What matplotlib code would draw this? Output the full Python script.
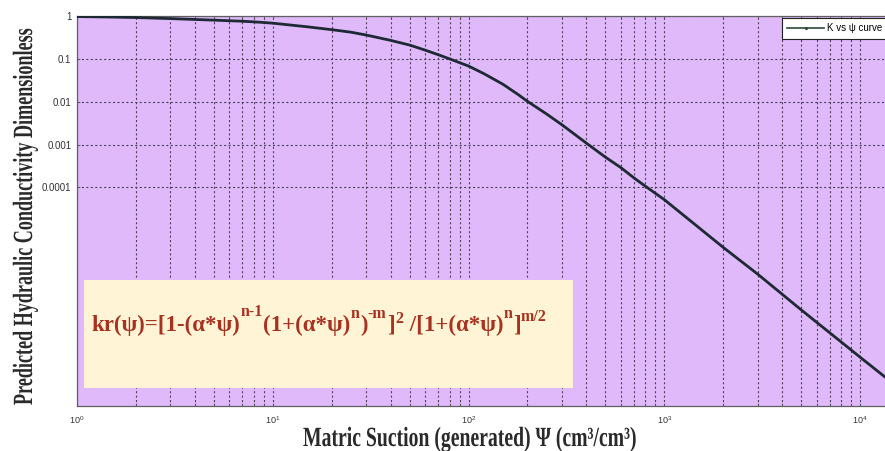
import matplotlib
matplotlib.use('Agg')
import matplotlib.pyplot as plt
from matplotlib.patches import Rectangle
from matplotlib.lines import Line2D
from matplotlib.patheffects import AbstractPathEffect
from matplotlib.transforms import Affine2D
from matplotlib.ticker import FixedLocator, NullLocator, LogLocator

plt.rcParams['font.family'] = ['Liberation Sans', 'DejaVu Sans']

# matric suction (cm) and relative conductivity
psi = [1, 1.5, 2, 3, 4, 5, 6, 7, 8, 9, 10, 15, 20, 25, 30, 40, 50, 60, 70, 80,
       100, 120, 150, 180, 200, 250, 300, 400, 500, 600, 700, 800, 1000,
       2000, 3000, 5000, 10000, 13400]
kr = [0.97, 0.945, 0.92, 0.87, 0.83, 0.80, 0.775, 0.755, 0.73, 0.705, 0.68,
      0.56, 0.48, 0.42, 0.36, 0.27, 0.21, 0.16, 0.125, 0.10,
      0.068, 0.045, 0.0255, 0.0145, 0.0102, 0.0052, 0.0029, 0.00108, 5.1e-4,
      2.9e-4, 1.67e-4, 1.07e-4, 5.2e-5,
      4.0e-6, 9.5e-7, 1.4e-7, 1.1e-8, 3.8e-9]

ytick_vals = [1e-4, 1e-3, 1e-2, 1e-1, 1]
ytick_labels = ['0.0001', '0.001', '0.01', '0.1', '1']

# formula pieces: (text, rise in points; 0 = on the baseline)
formula = [('kr(ψ)=[1-(α*ψ)', 0), ('n-1', 11), ('(1+(α*ψ)', 0), ('n', 9.5),
           (')', 0), ('-m', 9.5), (']', 0), ('2', 6), (' /[1+(α*ψ)', 0),
           ('n', 9.5), (']', 0), ('m/2', 7)]


class Stretch(AbstractPathEffect):
    """Make glyphs taller across the text direction."""
    def __init__(self, sy):
        super().__init__()
        self.sy = sy

    def draw_path(self, renderer, gc, tpath, affine, rgbFace=None):
        renderer.draw_path(gc, tpath, Affine2D().scale(1, self.sy) + affine, rgbFace)


W, H = 885, 451
fig = plt.figure(figsize=(W / 100, H / 100), dpi=100)
ax = fig.add_axes([77 / W, 1 - 406 / H, (W - 77) / W, 390 / H])
ax.set_facecolor('#dfb9fa')

ax.plot(psi, kr, color='#1e2a33', lw=2.0, zorder=4)
ax.set_xscale('log')
ax.set_yscale('log')
ax.set_xlim(1, 1.34e4)
ax.set_ylim(8e-10, 1)

ax.yaxis.set_major_locator(FixedLocator(ytick_vals))
ax.set_yticklabels(ytick_labels)
ax.yaxis.set_minor_locator(NullLocator())
ax.xaxis.set_major_locator(LogLocator(base=10))
ax.xaxis.set_minor_locator(LogLocator(base=10, subs=range(2, 10)))

grid_kw = dict(color='#4a3b55', lw=0.8, linestyle=(0, (1.8, 2.2)))
ax.grid(True, which='major', axis='both', **grid_kw)
ax.grid(True, which='minor', axis='x', **grid_kw)

ax.tick_params(which='both', direction='in', top=True, colors='#555555',
               length=2.5, width=0.6)
ax.tick_params(axis='y', labelsize=7, labelcolor='#333333', pad=4)
ax.tick_params(axis='x', labelsize=6.5, labelcolor='#333333', pad=6)
for side in ['left', 'bottom', 'top']:
    ax.spines[side].set_color('#606060')
    ax.spines[side].set_linewidth(0.9)
ax.spines['right'].set_visible(False)

# formula box
ax.add_patch(Rectangle((7 / 808, 18 / 390), 489 / 808, 108 / 390,
                       transform=ax.transAxes, facecolor='#fff5d6',
                       edgecolor='none', zorder=5))

ftxt = dict(family='Liberation Serif', weight='bold', color='#a83220', zorder=6)
y0 = 75 / 390
first = ax.text(14 / 808, y0, formula[0][0], transform=ax.transAxes,
                ha='left', va='baseline', fontsize=16.5, **ftxt)
prev = first
for txt, rise in formula[1:]:
    size = 11.5 if rise else 16.5
    prev = ax.annotate(txt, xy=(1, y0), xycoords=(prev, 'axes fraction'),
                       xytext=(0.3, rise), textcoords='offset points',
                       ha='left', va='baseline', fontsize=size, **ftxt)

# legend
handle = Line2D([], [], color='#2e4a3a', lw=1.2, marker='.', ms=2.5)
leg = ax.legend([handle], ['K vs ψ curve'], loc='upper left',
                bbox_to_anchor=(705 / 808, 388 / 390), borderaxespad=0,
                fontsize=7, handlelength=3.8, handletextpad=0.3,
                borderpad=0.55, fancybox=False, framealpha=1, numpoints=1)
leg.get_frame().set_edgecolor('#222222')
leg.get_frame().set_linewidth(0.8)
leg.set_zorder(7)

# axis labels: tall narrow serif, sized to their length then stretched upward
lab = dict(family='Liberation Serif', weight='bold', color='#2a2a2a', fontsize=20)
xl = fig.text(303 / W, 1 - 446 / H, 'Matric Suction (generated) Ψ (cm³/cm³)',
              ha='left', va='baseline', **lab)
yl = fig.text(32 / W, 1 - 405 / H, 'Predicted Hydraulic Conductivity Dimensionless',
              rotation=90, rotation_mode='anchor', ha='left', va='baseline', **lab)

renderer = fig.canvas.get_renderer()
sx = 334 / xl.get_window_extent(renderer).width
sy = 377 / yl.get_window_extent(renderer).height
xl.set_fontsize(20 * sx)
yl.set_fontsize(20 * sy)
xl.set_path_effects([Stretch(1 / sx)])
yl.set_path_effects([Stretch(1 / sy)])

fig.savefig('out.png', dpi=100)
